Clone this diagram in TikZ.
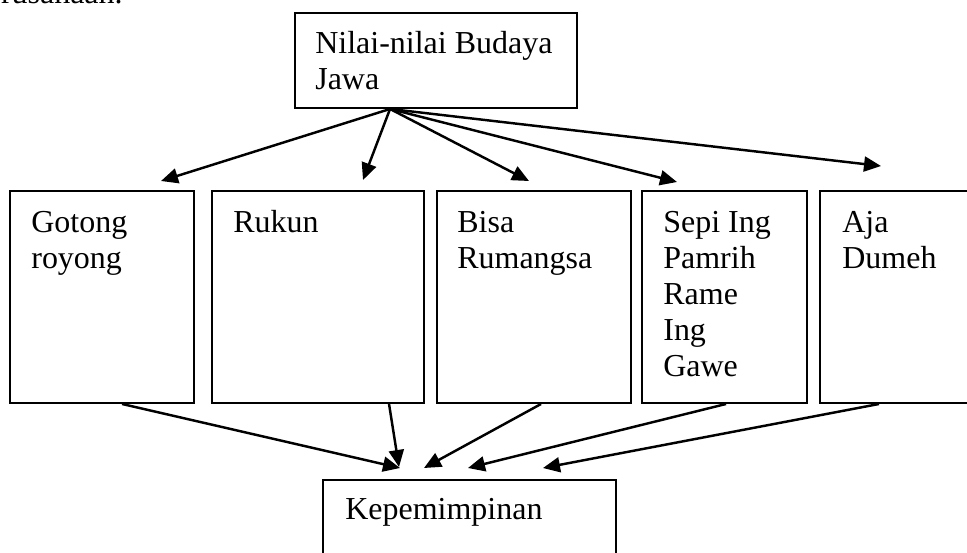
\documentclass[tikz,border=0pt]{standalone}
\usepackage{fontspec}
\setmainfont{Liberation Serif}
\usetikzlibrary{arrows.meta,fit,calc}
\tikzset{
  box/.style={draw=black, line width=1.1pt, inner sep=0pt, fill=none},
  lbl/.style={inner sep=0pt, anchor=base west, font=\fontsize{18.2}{20.5}\selectfont},
  conn/.style={draw=black, line width=1.4pt, -{Triangle[length=3.4mm,width=3mm]}}
}
\newcommand{\lines}[1]{\begin{tabular}[t]{@{}l@{}}#1\end{tabular}}
\begin{document}
\begin{tikzpicture}[x=0.02cm, y=-0.02cm]
  \useasboundingbox (0,0) rectangle (967,552);
  \clip (0,0) rectangle (967,552);
  \fill[white] (0,0) rectangle (967,552);

  % tail of the preceding paragraph
  \node[lbl, anchor=base east] (prev) at (123,3.5) {perusahaan.};

  % source box
  \node[box, fit={(295,13) (577,108)}] (top) {};
  \node[lbl] (toptxt) at (315,53) {\lines{Nilai-nilai Budaya\\Jawa}};

  % the five values
  \node[box, fit={(10,191) (194,403)}] (g) {};
  \node[lbl] (gtxt) at (31,232) {\lines{Gotong\\royong}};
  \node[box, fit={(212,191) (424,403)}] (r) {};
  \node[lbl] (rtxt) at (233,232) {Rukun};
  \node[box, fit={(437,191) (631,403)}] (b) {};
  \node[lbl] (btxt) at (457,232) {\lines{Bisa\\Rumangsa}};
  \node[box, fit={(642,191) (807,403)}] (s) {};
  \node[lbl] (stxt) at (663,232) {\lines{Sepi Ing\\Pamrih\\Rame\\Ing\\Gawe}};
  \node[box, fit={(820,191) (1000,403)}] (a) {};
  \node[lbl] (atxt) at (842,232) {\lines{Aja\\Dumeh}};

  % target box
  \node[box, fit={(323,480) (616,580)}] (k) {};
  \node[lbl] (ktxt) at (345,519) {Kepemimpinan};

  % connector end points
  \coordinate (src) at ($(top.south west)+(96,0)$);
  \coordinate (tg) at (161,181);
  \coordinate (tr) at (363,180);
  \coordinate (tb) at (529,181);
  \coordinate (ts) at (677,182);
  \coordinate (ta) at (881,166);

  \coordinate (og) at ($(g.south west)+(113,0)$);
  \coordinate (or) at ($(r.south west)+(178,0)$);
  \coordinate (ob) at ($(b.south west)+(105,0)$);
  \coordinate (os) at ($(s.south west)+(85,0)$);
  \coordinate (oa) at ($(a.south west)+(60,0)$);
  \coordinate (kg) at (400,468);
  \coordinate (kr) at (399,467);
  \coordinate (kb) at (424,468);
  \coordinate (ks) at (468,468);
  \coordinate (ka) at (543,468);

  % arrows from the source box
  \draw[conn] (src) -- (tg);
  \draw[conn] (src) -- (tr);
  \draw[conn] (src) -- (tb);
  \draw[conn] (src) -- (ts);
  \draw[conn] (src) -- (ta);

  % arrows into the target box
  \draw[conn] (og) -- (kg);
  \draw[conn] (or) -- (kr);
  \draw[conn] (ob) -- (kb);
  \draw[conn] (os) -- (ks);
  \draw[conn] (oa) -- (ka);
\end{tikzpicture}
\end{document}
